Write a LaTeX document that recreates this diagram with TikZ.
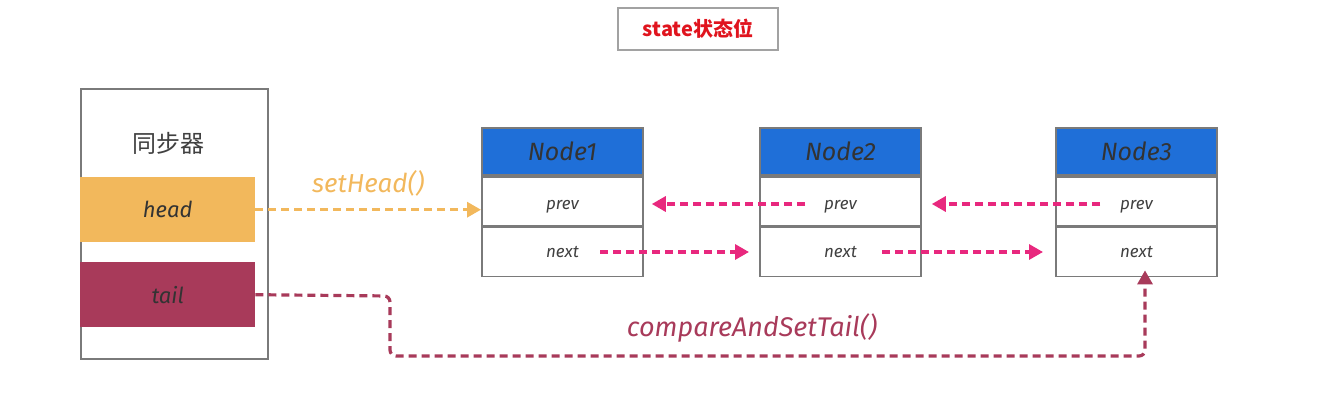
\documentclass[tikz,border=0pt]{standalone}
\usepackage{fontspec}
\setmainfont{Fira Sans}
\newfontfamily\cjk{Noto Sans CJK SC}
\usetikzlibrary{arrows.meta}
\definecolor{headc}{HTML}{F2B85C}
\definecolor{tailc}{HTML}{A83A5A}
\definecolor{nodeblue}{HTML}{1F6FD8}
\definecolor{pinkc}{HTML}{E8287E}
\definecolor{boxgray}{HTML}{7A7A7A}
\definecolor{titlered}{HTML}{E0141E}
\tikzset{
  cell/.style={draw=boxgray, line width=1.8pt, fill=white, minimum width=161pt, minimum height=49pt, inner sep=0pt, font=\fontsize{17}{17}\selectfont\itshape, text=black!75},
  hdr/.style={cell, fill=nodeblue, minimum height=47pt, font=\fontsize{25}{25}\selectfont\itshape, text=black!80},
  bar/.style={inner sep=0pt, minimum width=175pt, minimum height=65pt, font=\fontsize{22}{22}\selectfont\itshape, text=black!80},
  link/.style={dashed, dash pattern=on 8pt off 5pt, line width=3.2pt, -{Triangle[length=14pt,width=15pt]}},
}
\begin{document}
\begin{tikzpicture}[x=1pt,y=-1pt]
\useasboundingbox (0,0) rectangle (1321,404);
% title
\node[draw=boxgray!70, line width=1.6pt, minimum width=160pt, minimum height=42pt, inner sep=0pt, font=\cjk\bfseries\fontsize{20}{20}\selectfont, text=titlered] (title) at (698,29) {state状态位};
% synchronizer
\node[draw=boxgray, line width=2.4pt, minimum width=187pt, minimum height=270pt, anchor=north west, inner sep=0pt] (sync) at (80,88) {};
\node[font=\cjk\fontsize{24}{24}\selectfont, text=black!75] (synct) at (168,143) {同步器};
\node[bar, fill=headc, anchor=north west] (head) at (80,177) {head};
\node[bar, fill=tailc, anchor=north west] (tail) at (80,262) {tail};
% nodes
\foreach \n/\x in {1/481,2/759,3/1055}{
  \node[hdr, anchor=north west] (h\n) at (\x,127) {Node\n};
  \node[cell, anchor=north] (p\n) at (h\n.south) {\smash{\raisebox{-8.5pt}{prev}}};
  \node[cell, anchor=north] (nx\n) at (p\n.south) {\smash{\raisebox{-5.5pt}{next}}};
}
% connectors
\coordinate (pa2) at (805,204);
\coordinate (pa3) at (1100,204);
\coordinate (na1) at (600,252);
\coordinate (na2) at (882,252);
\draw[link, headc] (head.east) -- node[above=8pt, font=\fontsize{26}{26}\selectfont\itshape, text=headc] (sethead) {setHead()} (head.east -| p1.west);
\draw[link, pinkc] (pa2) -- ([xshift=8pt]pa2 -| p1.east);
\draw[link, pinkc] (pa3) -- ([xshift=10pt]pa3 -| p2.east);
\draw[link, pinkc] (na1) -- ([xshift=-10pt]na1 -| nx2.west);
\draw[link, pinkc] (na2) -- ([xshift=-12pt]na2 -| nx3.west);
\coordinate (t1) at (390,296);
\coordinate (t2) at (390,356);
\coordinate (t3) at (1145,356);
\draw[link, tailc, rounded corners=6pt] (tail.east) -- (t1) -- (t2) -- (t3) -- ([yshift=7pt]nx3.south -| t3);
\node[font=\fontsize{27}{27}\selectfont\itshape, text=tailc] (cast) at (752,328) {compareAndSetTail()};
\end{tikzpicture}
\end{document}
